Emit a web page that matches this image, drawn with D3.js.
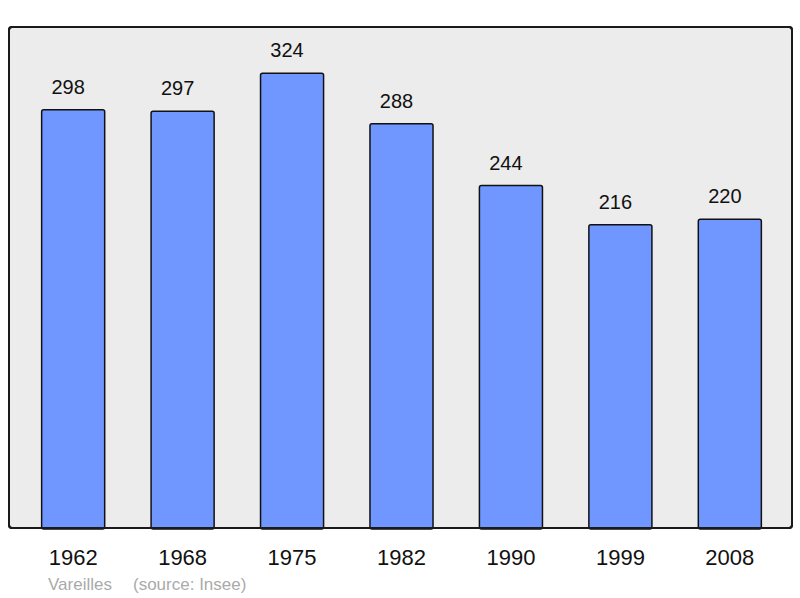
<!DOCTYPE html>
<html><head><meta charset="utf-8">
<script src="https://cdn.jsdelivr.net/npm/d3@7"></script>
<style>body{margin:0;background:#fff;}svg{display:block;font-family:"Liberation Sans",Arial,sans-serif;}</style>
</head><body>
<svg id="c" width="800" height="598"></svg>
<script>
const years = ["1962","1968","1975","1982","1990","1999","2008"];
const population = [298,297,324,288,244,216,220];
const commune = "Vareilles";
const source = "(source: Insee)";

const svg = d3.select("#c");
const frame = {x0:9, x1:792, y0:27, y1:528};
const x = d3.scaleBand().domain(years).range([frame.x0+2, frame.x1]).paddingInner(0.424).paddingOuter(0.28);
const y = d3.scaleLinear().domain([0,357]).range([frame.y1, frame.y0]);

svg.append("rect").attr("x",frame.x0).attr("y",frame.y0)
  .attr("width",frame.x1-frame.x0).attr("height",frame.y1-frame.y0)
  .attr("rx",3).attr("fill","#ececec").attr("stroke","#1a1a1a").attr("stroke-width",2);

const g = svg.append("g");
g.selectAll("rect.bar").data(population).join("rect").attr("class","bar")
  .attr("x",(d,i)=>x(years[i])).attr("y",d=>y(d))
  .attr("width",x.bandwidth()).attr("height",d=>frame.y1-y(d)+1)
  .attr("rx",2).attr("fill","#7097ff").attr("stroke","#111").attr("stroke-width",1.5);

g.selectAll("text.val").data(population).join("text").attr("class","val")
  .attr("x",(d,i)=>x(years[i])+x.bandwidth()/2-5).attr("y",d=>y(d)-16)
  .attr("text-anchor","middle").attr("font-size",20).attr("fill","#111").text(d=>d);

svg.append("rect").attr("x",frame.x0).attr("y",frame.y0)
  .attr("width",frame.x1-frame.x0).attr("height",frame.y1-frame.y0)
  .attr("rx",3).attr("fill","none").attr("stroke","#1a1a1a").attr("stroke-width",2);

const axis = d3.axisBottom(x).tickSize(0).tickPadding(0);
const ax = svg.append("g").attr("transform",`translate(0,${frame.y1})`).call(axis);
ax.select(".domain").remove();
ax.selectAll("text").attr("font-size",22).attr("fill","#111").attr("dy",null).attr("y",37)
  .attr("font-family","Liberation Sans, Arial, sans-serif");

svg.append("text").attr("x",48).attr("y",590).attr("font-size",17).attr("fill","#aaa").text(commune);
svg.append("text").attr("x",133).attr("y",590).attr("font-size",17).attr("fill","#aaa").text(source);
</script>
</body></html>
